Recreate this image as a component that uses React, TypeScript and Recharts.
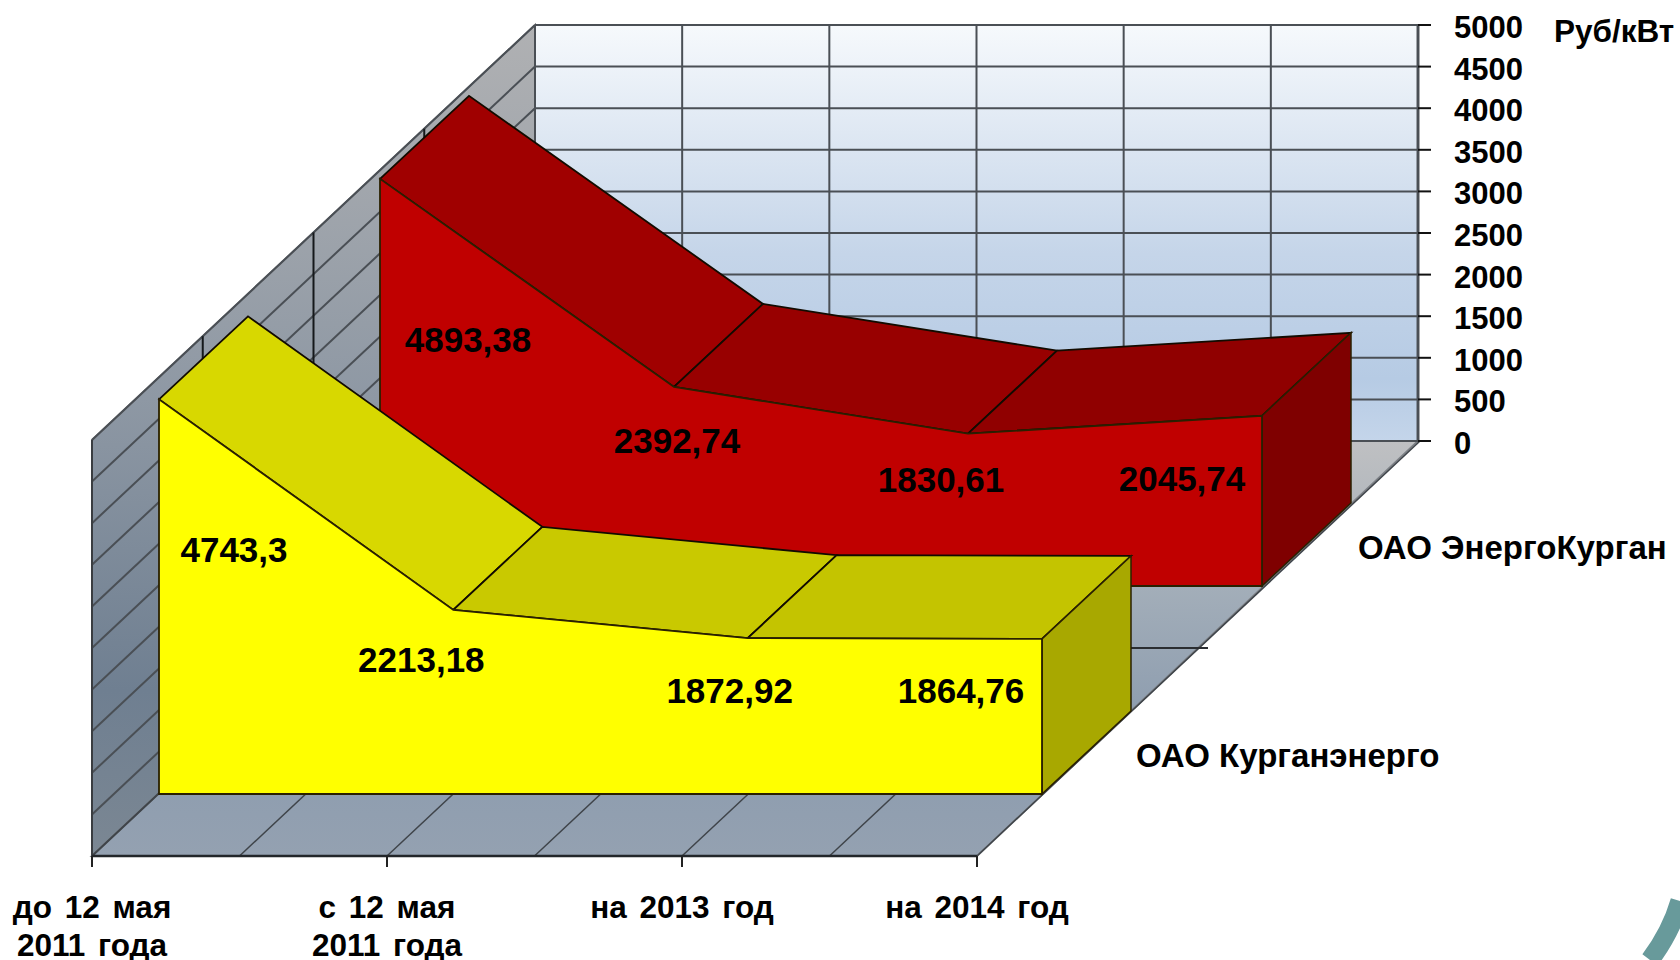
import { Area, CartesianGrid, ComposedChart, LabelList, XAxis, YAxis } from "recharts"

const categories = ["до 12 мая\n2011 года", "с 12 мая\n2011 года", "на 2013 год", "на 2014 год"]
const kurganEnergo = [4743.3, 2213.18, 1872.92, 1864.76]
const energoKurgan = [4893.38, 2392.74, 1830.61, 2045.74]
const valueTicks = [0, 500, 1000, 1500, 2000, 2500, 3000, 3500, 4000, 4500, 5000]
const wallColumns = [0, 1, 2, 3, 4, 5, 6]
const seriesNames = ["ОАО Курганэнерго", "ОАО ЭнергоКурган"]
const unitLabel = "Руб/кВт"

const chartData = categories.map((name, i) => ({
  name,
  kurgan: kurganEnergo[i],
  energo: energoKurgan[i],
}))

const FONT = '"Liberation Sans", Arial, sans-serif'
const WIDTH = 1680
const HEIGHT = 960
const PLOT_RIGHT = 1418
const PLOT_BOTTOM = 856
const WALL = { left: 535, right: 1418, top: 25, bottom: 441 }
const FLOOR = { left: 92, right: 977, y: 856 }
const DEPTH = { x: 89, y: 83 }
const WALL_SPAN = WALL.bottom - WALL.top

const formatValue = (v: number) => String(v).replace(".", ",")
const wallY = (v: number) => WALL.bottom - (v / 5000) * WALL_SPAN

// dots sit above every area, so the whole slab incl. its front face is drawn here
const slab = (baseY: number, frontFill: string, topFills: string[], sideFill: string) => (props: any) => {
  const { index, points } = props
  if (index !== 0) return <g key={index} />
  const shift = (p: any) => `${p.x + DEPTH.x},${p.y - DEPTH.y}`
  const last = points[points.length - 1]
  const first = points[0]
  const outline = points.map((p: any) => `${p.x},${p.y}`).join(" ")
  return (
    <g key="slab">
      {points.slice(0, -1).map((p: any, i: number) => (
        <polygon
          key={i}
          points={`${p.x},${p.y} ${points[i + 1].x},${points[i + 1].y} ${shift(points[i + 1])} ${shift(p)}`}
          fill={topFills[i]}
          stroke="#120b00"
          strokeWidth={1.8}
        />
      ))}
      <polygon
        points={`${last.x},${last.y} ${shift(last)} ${last.x + DEPTH.x},${baseY - DEPTH.y} ${last.x},${baseY}`}
        fill={sideFill}
        stroke="#2a2000"
        strokeWidth={1.5}
      />
      <polygon
        points={`${first.x},${baseY} ${outline} ${last.x},${baseY}`}
        fill={frontFill}
        stroke="#2a2000"
        strokeWidth={1.8}
      />
    </g>
  )
}

const pointLabel = (shifts: number[][]) => (props: any) => {
  const { x, y, value, index } = props
  return (
    <text
      x={x + shifts[index][0]}
      y={y + shifts[index][1]}
      textAnchor="middle"
      dominantBaseline="central"
      fontFamily={FONT}
      fontWeight={700}
      fontSize={35}
      fill="#000"
    >
      {formatValue(value)}
    </text>
  )
}

const categoryTick = (props: any) => {
  const { x, y, payload } = props
  const lines = String(payload.value).split("\n")
  return (
    <text x={x} y={y} textAnchor="middle" fontFamily={FONT} fontWeight={700} fontSize={31.5} fill="#000" wordSpacing={4}>
      {lines.map((line, i) => (
        <tspan key={i} x={x} dy={i === 0 ? 0 : 38}>
          {line}
        </tspan>
      ))}
    </text>
  )
}

function Room() {
  const dropX = WALL.left - FLOOR.left
  const dropY = FLOOR.y - WALL.bottom
  return (
    <svg width={WIDTH} height={HEIGHT} style={{ position: "absolute", left: 0, top: 0 }}>
      <defs>
        <linearGradient id="backWall" x1="0" y1="0" x2="0" y2="1">
          <stop offset="0%" stopColor="#f6f9fc" />
          <stop offset="55%" stopColor="#c5d5e9" />
          <stop offset="85%" stopColor="#b6cbe4" />
          <stop offset="100%" stopColor="#c4d5ea" />
        </linearGradient>
        <linearGradient id="sideWall" x1="0.5" y1="0" x2="0.5" y2="1">
          <stop offset="0%" stopColor="#b0b1b3" />
          <stop offset="45%" stopColor="#8e98a4" />
          <stop offset="80%" stopColor="#6f7f91" />
          <stop offset="100%" stopColor="#7b8793" />
        </linearGradient>
        <linearGradient id="floor" x1="0" y1="0" x2="0" y2="1">
          <stop offset="0%" stopColor="#bfc0c2" />
          <stop offset="35%" stopColor="#a3aeb9" />
          <stop offset="70%" stopColor="#8b9bae" />
          <stop offset="100%" stopColor="#94a1b1" />
        </linearGradient>
      </defs>
      <rect x={WALL.left} y={WALL.top} width={WALL.right - WALL.left} height={WALL_SPAN} fill="url(#backWall)" />
      <polygon
        points={`${WALL.left},${WALL.top} ${WALL.left},${WALL.bottom} ${FLOOR.left},${FLOOR.y} ${FLOOR.left},${WALL.top + dropY}`}
        fill="url(#sideWall)"
        stroke="#77797c"
        strokeWidth={2}
      />
      <polygon
        points={`${FLOOR.left},${FLOOR.y} ${FLOOR.right},${FLOOR.y} ${WALL.right},${WALL.bottom} ${WALL.left},${WALL.bottom}`}
        fill="url(#floor)"
        stroke="#7d8186"
        strokeWidth={2}
      />
      {valueTicks.map((v) => (
        <line
          key={v}
          x1={WALL.left}
          y1={wallY(v)}
          x2={FLOOR.left}
          y2={wallY(v) + dropY}
          stroke="#4a4f55"
          strokeWidth={2}
        />
      ))}
      {[1, 2, 3].map((k) => (
        <line
          key={k}
          x1={FLOOR.left + (k * dropX) / 4}
          y1={WALL.top + dropY - (k * dropY) / 4}
          x2={FLOOR.left + (k * dropX) / 4}
          y2={FLOOR.y - (k * dropY) / 4}
          stroke="#15181b"
          strokeWidth={2}
        />
      ))}
      {wallColumns.map((k) => (
        <line
          key={k}
          x1={FLOOR.left + (k * (FLOOR.right - FLOOR.left)) / 6}
          y1={FLOOR.y}
          x2={FLOOR.left + (k * (FLOOR.right - FLOOR.left)) / 6 + dropX}
          y2={WALL.bottom}
          stroke="#3f444a"
          strokeWidth={1.5}
        />
      ))}
      <line x1={FLOOR.left + dropX / 2} y1={648} x2={1208} y2={648} stroke="#2a2d31" strokeWidth={2} />
      <line x1={FLOOR.left} y1={FLOOR.y} x2={FLOOR.left} y2={WALL.top + dropY} stroke="#3a3d41" strokeWidth={2} />
      <line x1={FLOOR.left} y1={FLOOR.y} x2={FLOOR.right} y2={FLOOR.y} stroke="#22262a" strokeWidth={2.5} />
      <line x1={WALL.right} y1={WALL.top} x2={WALL.right} y2={WALL.bottom} stroke="#55595e" strokeWidth={3} />
      <path d="M1650,960 Q1671,932 1680,901" fill="none" stroke="#689a9b" strokeWidth={19} />
      <text x={1554} y={42} fontFamily={FONT} fontWeight={700} fontSize={31.5} fill="#000">
        {unitLabel}
      </text>
      <text x={1136} y={767} fontFamily={FONT} fontWeight={700} fontSize={33} fill="#000">
        {seriesNames[0]}
      </text>
      <text x={1358} y={559} fontFamily={FONT} fontWeight={700} fontSize={33} fill="#000">
        {seriesNames[1]}
      </text>
    </svg>
  )
}

export default function App() {
  return (
    <div style={{ position: "absolute", left: 0, top: 0, width: WIDTH, height: HEIGHT, background: "#fff" }}>
      <Room />
      <div style={{ position: "absolute", left: 0, top: 0 }}>
        <ComposedChart width={WIDTH} height={HEIGHT} data={chartData} margin={{ top: 0, right: 0, bottom: 0, left: 0 }}>
          <XAxis
            xAxisId="floor"
            dataKey="name"
            scale="point"
            height={HEIGHT - PLOT_BOTTOM}
            padding={{ left: FLOOR.left, right: PLOT_RIGHT - FLOOR.right }}
            interval={0}
            tickSize={11}
            tickMargin={51}
            tick={categoryTick}
            axisLine={false}
            tickLine={{ stroke: "#222", strokeWidth: 2 }}
          />
          <XAxis xAxisId="energo" dataKey="name" scale="point" height={0} padding={{ left: 380, right: PLOT_RIGHT - 1262 }} hide />
          <XAxis xAxisId="kurgan" dataKey="name" scale="point" height={0} padding={{ left: 159, right: PLOT_RIGHT - 1042 }} hide />
          <YAxis
            yAxisId="wall"
            orientation="right"
            type="number"
            domain={[0, 5000]}
            ticks={valueTicks}
            width={WIDTH - PLOT_RIGHT}
            padding={{ top: WALL.top, bottom: PLOT_BOTTOM - WALL.bottom }}
            interval={0}
            tickSize={13}
            tickMargin={23}
            tick={{ fontFamily: FONT, fontWeight: 700, fontSize: 31, fill: "#000", dy: 2 }}
            axisLine={false}
            tickLine={{ stroke: "#111", strokeWidth: 2 }}
          />
          <YAxis
            yAxisId="energo"
            type="number"
            width={0}
            domain={[0, 5000]}
            padding={{ top: 586 - WALL_SPAN, bottom: PLOT_BOTTOM - 586 }}
            hide
          />
          <YAxis
            yAxisId="kurgan"
            type="number"
            width={0}
            domain={[0, 5000]}
            padding={{ top: 794 - WALL_SPAN, bottom: PLOT_BOTTOM - 794 }}
            hide
          />
          <CartesianGrid
            xAxisId="floor"
            yAxisId="wall"
            x={WALL.left}
            y={WALL.top}
            width={WALL.right - WALL.left}
            height={WALL_SPAN}
            horizontalPoints={valueTicks.map(wallY)}
            verticalPoints={wallColumns.map((k) => WALL.left + (k * (WALL.right - WALL.left)) / 6)}
            stroke="#4a4f55"
            strokeWidth={2}
          />
          {/* no paint, only ties the wall value axis to the data so it gets its ticks */}
          <Area
            xAxisId="floor"
            yAxisId="wall"
            dataKey="energo"
            fill="none"
            stroke="none"
            dot={false}
            activeDot={false}
            isAnimationActive={false}
          />
          <Area
            xAxisId="energo"
            yAxisId="energo"
            dataKey="energo"
            type="linear"
            fill="#c00000"
            fillOpacity={1}
            stroke="#2a0000"
            strokeWidth={1.5}
            isAnimationActive={false}
            dot={slab(586, "#c00000", ["#a00000", "#980000", "#900000"], "#7f0000")}
            activeDot={false}
          >
            <LabelList
              dataKey="energo"
              content={pointLabel([
                [88, 161],
                [3, 54],
                [-27, 46],
                [-80, 63],
              ])}
            />
          </Area>
          <Area
            xAxisId="kurgan"
            yAxisId="kurgan"
            dataKey="kurgan"
            type="linear"
            fill="#ffff00"
            fillOpacity={1}
            stroke="#2a2000"
            strokeWidth={1.5}
            isAnimationActive={false}
            dot={slab(794, "#ffff00", ["#d8d800", "#c9c900", "#c4c400"], "#a8a800")}
            activeDot={false}
          >
            <LabelList
              dataKey="kurgan"
              content={pointLabel([
                [75, 150],
                [-32, 50],
                [-18, 52],
                [-81, 52],
              ])}
            />
          </Area>
        </ComposedChart>
      </div>
    </div>
  )
}
